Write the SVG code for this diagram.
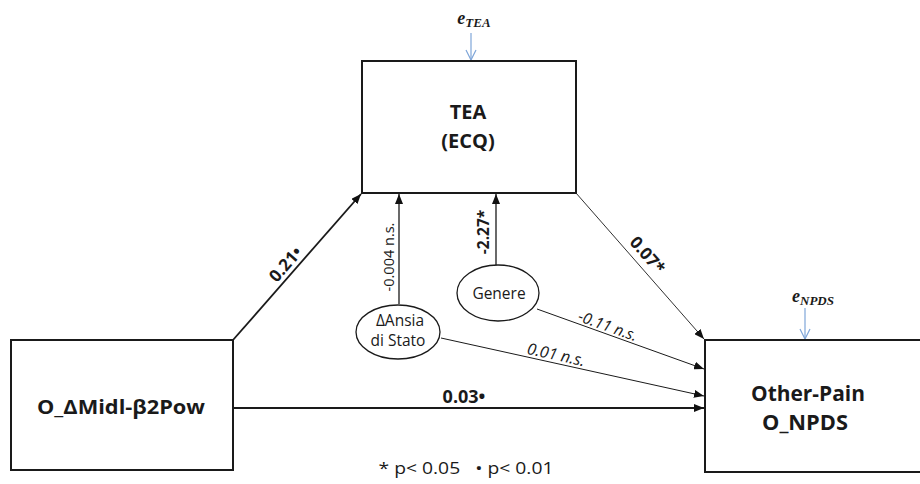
<svg xmlns="http://www.w3.org/2000/svg" width="920" height="484" viewBox="0 0 920 484">
<defs>
<marker id="ah" viewBox="0 0 10 8" refX="10" refY="4" markerWidth="10" markerHeight="8" markerUnits="userSpaceOnUse" orient="auto">
<path d="M0,0 L10,4 L0,8 Z" fill="#111"/>
</marker>
<marker id="eh" viewBox="0 0 12 12" refX="11" refY="6" markerWidth="12" markerHeight="12" markerUnits="userSpaceOnUse" orient="auto">
<path d="M1,1 L11,6 L1,11" fill="none" stroke="#7fa6d9" stroke-width="1.2"/>
</marker>
</defs>
<style>
.box{fill:#fff;stroke:#1a1a1a;stroke-width:2}
.ell{fill:#fff;stroke:#1a1a1a;stroke-width:1.3}
.bt{font-family:"Open Sans","DejaVu Sans",sans-serif;font-weight:bold;fill:#1a1a1a;text-anchor:middle}
.nt{font-family:"Open Sans","DejaVu Sans",sans-serif;fill:#1a1a1a;text-anchor:middle}
.et{font-family:"Liberation Serif",serif;font-weight:bold;font-style:italic;fill:#1a1a1a;text-anchor:middle}
.c{fill:none;stroke:#1a1a1a;marker-end:url(#ah)}
.e{fill:none;stroke:#7fa6d9;stroke-width:1.2;marker-end:url(#eh)}
</style>
<rect width="920" height="484" fill="#fff"/>
<g id="connectors">
<line class="c" x1="233" y1="340" x2="361" y2="194" stroke-width="1.8"/>
<line class="c" x1="233" y1="408" x2="704" y2="408" stroke-width="1.8"/>
<line class="c" x1="399" y1="304" x2="399" y2="194" stroke="#555" stroke-width="1.3"/>
<line class="c" x1="496" y1="265" x2="496" y2="194" stroke="#555" stroke-width="1.3"/>
<line class="c" x1="576" y1="193" x2="704" y2="339" stroke="#555" stroke-width="0.9"/>
<line class="c" x1="537" y1="309" x2="704" y2="369" stroke-width="1"/>
<line class="c" x1="441" y1="338" x2="704" y2="396" stroke-width="1"/>
<line class="e" x1="471" y1="33" x2="471" y2="60"/>
<line class="e" x1="805" y1="308" x2="805" y2="339"/>
<text class="bt" font-size="17" transform="translate(290,268) rotate(-48.7)">0.21•</text>
<text class="nt" font-size="14.5" transform="translate(394,257) rotate(-90)">-0.004 n.s.</text>
<text class="bt" font-size="15.5" transform="translate(489,232) rotate(-90)">-2.27*</text>
<text class="bt" font-size="17" transform="translate(643,259) rotate(48.7)">0.07*</text>
<text class="nt" font-size="15.5" font-style="italic" transform="translate(606,331) rotate(19.7)">-0.11 n.s.</text>
<text class="nt" font-size="16" font-style="italic" transform="translate(555,360) rotate(12.4)">0.01 n.s.</text>
<text class="bt" font-size="18" x="464" y="403">0.03•</text>
</g>
<g id="tea">
<rect class="box" x="362" y="61" width="214" height="132"/>
<text class="bt" font-size="20" x="468" y="119">TEA</text>
<text class="bt" font-size="20" x="468" y="148">(ECQ)</text>
</g>
<g id="e_tea">
<text class="et" font-size="18" x="474" y="24">e<tspan font-size="13" dy="3">TEA</tspan></text>
</g>
<g id="midl">
<rect class="box" x="11" y="340" width="222" height="130"/>
<text class="bt" font-size="20" x="121" y="414" textLength="168" lengthAdjust="spacingAndGlyphs">O_ΔMidl-β2Pow</text>
</g>
<g id="npds">
<rect class="box" x="705" y="340" width="225" height="132"/>
<text class="bt" font-size="20.5" x="808" y="401" textLength="114" lengthAdjust="spacingAndGlyphs">Other-Pain</text>
<text class="bt" font-size="20.5" x="805" y="430" textLength="86" lengthAdjust="spacingAndGlyphs">O_NPDS</text>
</g>
<g id="e_npds">
<text class="et" font-size="18" x="813" y="302">e<tspan font-size="13" dy="3">NPDS</tspan></text>
</g>
<g id="ansia">
<ellipse class="ell" cx="398" cy="332" rx="42" ry="27"/>
<text class="nt" font-size="15.5" x="400" y="326">ΔAnsia</text>
<text class="nt" font-size="15.5" x="398" y="346">di Stato</text>
</g>
<g id="genere">
<ellipse class="ell" cx="498" cy="293" rx="41" ry="28"/>
<text class="nt" font-size="15.5" x="499" y="299">Genere</text>
</g>
<g id="legend">
<text class="nt" font-size="17" x="466" y="474" xml:space="preserve" textLength="175" lengthAdjust="spacingAndGlyphs">* p&lt; 0.05   • p&lt; 0.01</text>
</g>
</svg>
